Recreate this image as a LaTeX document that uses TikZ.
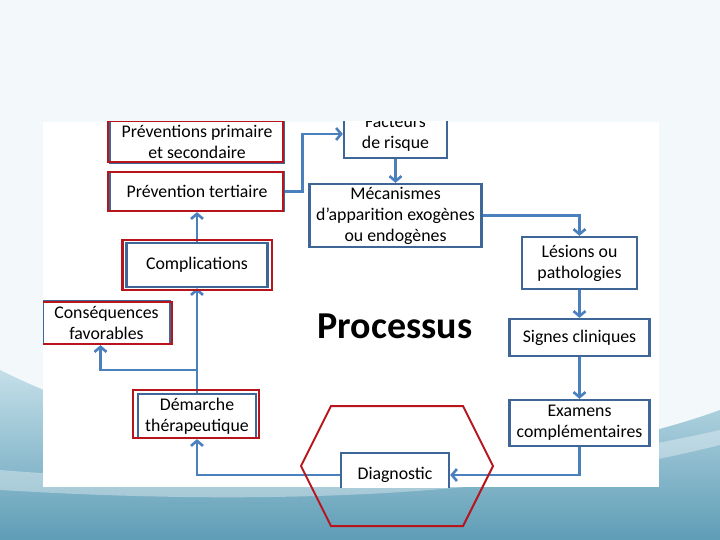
\documentclass[tikz,border=0pt]{standalone}
\usepackage{fontspec}
\setmainfont{Carlito}
\usetikzlibrary{arrows.meta,calc}
\definecolor{boxblue}{HTML}{3E6696}
\definecolor{arrblue}{HTML}{4A80BE}
\definecolor{hexred}{HTML}{B8141C}
\definecolor{slidebg}{HTML}{F3F8FB}
\definecolor{wavetop}{HTML}{C4DFE9}
\definecolor{wavebot}{HTML}{5E9DB6}
\tikzset{
  pbox/.style={draw=boxblue, line width=2.4pt, fill=white, align=center, inner sep=0pt,
    font=\fontsize{17.8}{21}\selectfont},
  redframe/.style={draw=hexred, line width=2.4pt},
  arr/.style={draw=arrblue, line width=2.6pt, -{Straight Barb[length=5pt,width=12pt]}},
}
\begin{document}
\begin{tikzpicture}[x=1pt,y=-1pt]
\useasboundingbox (0,0) rectangle (720,540);
\fill[slidebg] (0,0) rectangle (720,540);
% bottom wave
\shade[top color=wavetop, bottom color=wavebot]
  (0,370) .. controls (200,470) and (500,490) .. (720,410) -- (720,540) -- (0,540) -- cycle;
\fill[white, opacity=0.35]
  (0,470) .. controls (250,490) and (500,480) .. (720,430) -- (720,445) .. controls (500,500) and (250,505) .. (0,490) -- cycle;
% white picture area
\fill[white] (43,122) rectangle (659,487);
\begin{scope}
\clip (43,122) rectangle (659,487);
% nodes
\node[pbox, minimum width=174, minimum height=42] (prim) at (197,142) {Préventions primaire\\et secondaire};
\node[pbox, minimum width=174, minimum height=39] (tert) at (197,191.5) {Prévention tertiaire};
\node[pbox, minimum width=141, minimum height=44] (comp) at (197,265) {Complications};
\node[pbox, minimum width=127, minimum height=43] (cons) at (106.5,322.5) {Conséquences\\favorables};
\node[pbox, minimum width=118, minimum height=44] (dem) at (197,416) {Démarche\\thérapeutique};
\node[pbox, minimum width=103, minimum height=48] (fact) at (395.5,134) {Facteurs\\de risque};
\node[pbox, minimum width=172, minimum height=63] (mec) at (395.5,215.5) {Mécanismes\\d’apparition exogènes\\ou endogènes};
\node[pbox, minimum width=115, minimum height=52] (les) at (579.5,263) {Lésions ou\\pathologies};
\node[pbox, minimum width=140, minimum height=37] (sig) at (579.5,337.5) {Signes cliniques};
\node[pbox, minimum width=140, minimum height=46] (exa) at (579.5,423) {Examens\\complémentaires};
\node[pbox, minimum width=108, minimum height=44] (diag) at (395,475) {Diagnostic};
\node[font=\fontsize{38}{44}\selectfont\bfseries] (proc) at (395,326) {Processus};
% connectors
\draw[arr] (tert.east) -- ++(17,0) |- (fact.west);
\draw[arr] (fact.south) -- (mec.north);
\draw[arr] (mec.east) -| (les.north);
\draw[arr] (les.south) -- (sig.north);
\draw[arr] (sig.south) -- (exa.north);
\draw[arr] (exa.south) |- (diag.east);
\draw[arr] (diag.west) -| (dem.south);
\draw[arr] (dem.north) -- (comp.south);
\draw[arr] (comp.north) -- (tert.south);
\coordinate (br) at (197,370);
\draw[arr] (br) -| ([xshift=-6]cons.south);
% red frames
\draw[redframe] ([shift={(-1,1)}]prim.north west) rectangle ([shift={(-2,-2)}]prim.south east);
\draw[redframe] ([shift={(-1,1)}]tert.north west) rectangle ([shift={(-2,-1)}]tert.south east);
\draw[redframe] ([shift={(-3,-2)}]comp.north west) rectangle ([shift={(3,2)}]comp.south east);
\draw[redframe] ([shift={(0,2)}]cons.north west) rectangle ([shift={(1,-1)}]cons.south east);
\draw[redframe] ([shift={(-4,-3)}]dem.north west) rectangle ([shift={(2,-1)}]dem.south east);
\end{scope}
% red hexagon
\draw[hexred, line width=2pt, line join=miter]
  (331,406) -- (463,406) -- (493,466) -- (463,526) -- (331,526) -- (301,466) -- cycle;
\end{tikzpicture}
\end{document}
